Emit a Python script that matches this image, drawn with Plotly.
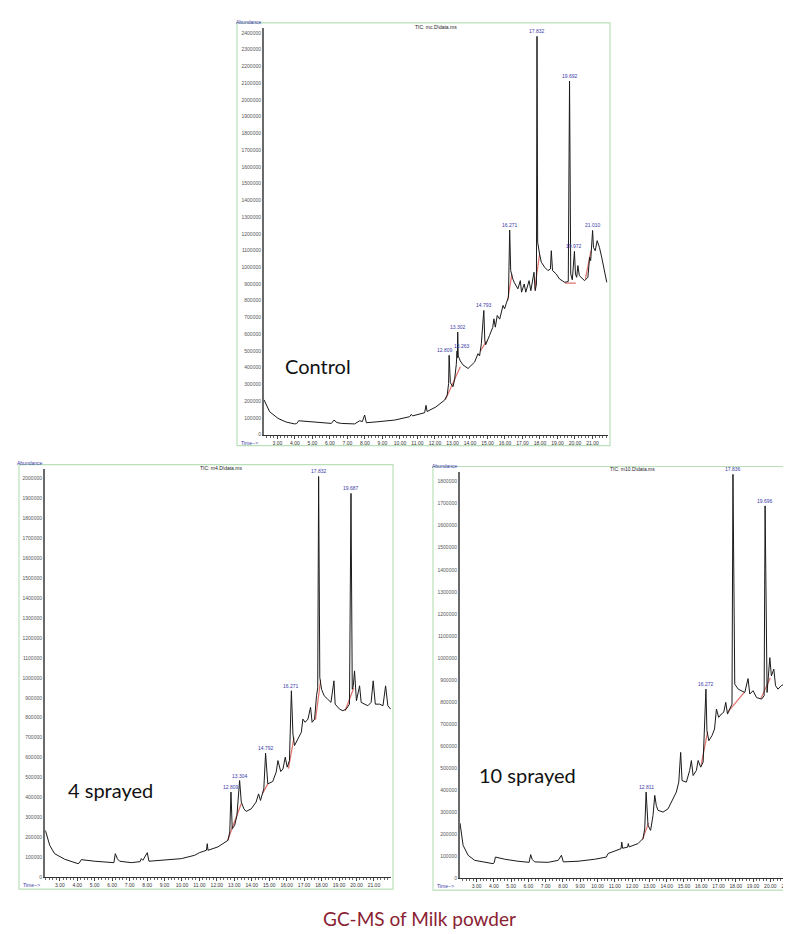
import plotly.graph_objects as go

# ---------------- DATA ----------------
# Control (mc.D)
ctrl_time = [2.23, 2.55, 3.03, 3.5, 3.98, 4.10, 4.21, 4.5, 5.12, 6.08, 6.23, 6.4, 6.65, 7.41, 7.70, 7.85, 7.98, 8.08,
             8.74, 9.70, 10.55, 10.65, 10.72, 11.41, 11.49, 11.55, 12.05, 12.55, 12.70, 12.78, 12.809, 12.88, 13.03,
             13.12, 13.22, 13.263, 13.28, 13.302, 13.33, 13.45, 13.6, 13.89, 14.27, 14.46, 14.55, 14.65, 14.793,
             14.85, 14.9, 15.12, 15.3, 15.37, 15.45, 15.56, 15.7, 15.89, 15.98, 16.1, 16.20, 16.271, 16.33, 16.45,
             16.53, 16.74, 16.88, 16.95, 17.1, 17.19, 17.38, 17.48, 17.66, 17.73, 17.80, 17.832, 17.87, 17.98,
             18.08, 18.27, 18.46, 18.60, 18.65, 18.72, 18.93, 19.12, 19.41, 19.62, 19.692, 19.76, 19.85, 19.972,
             20.03, 20.10, 20.17, 20.25, 20.36, 20.55, 20.74, 20.84, 20.9, 21.010, 21.06, 21.16, 21.27, 21.4,
             21.53, 21.65, 21.82]
ctrl_abund = [208000, 137000, 97000, 75000, 64000, 66000, 83000, 80000, 75000, 67000, 87000, 72000, 67000, 64000,
              83000, 78000, 117000, 71000, 77000, 87000, 107000, 121000, 112000, 131000, 175000, 138000, 165000,
              206000, 236000, 305000, 474000, 310000, 286000, 327000, 420000, 500000, 460000, 613000, 470000,
              440000, 417000, 395000, 434000, 484000, 470000, 543000, 742000, 560000, 537000, 593000, 640000,
              692000, 642000, 712000, 690000, 772000, 752000, 792000, 820000, 1222000, 980000, 930000, 910000,
              871000, 920000, 851000, 900000, 851000, 920000, 860000, 970000, 860000, 900000, 2380000, 1150000,
              1079000, 1030000, 1000000, 980000, 990000, 1099000, 980000, 960000, 930000, 910000, 915000,
              2113000, 960000, 925000, 1095000, 960000, 940000, 1010000, 950000, 940000, 920000, 940000,
              1060000, 1040000, 1220000, 1119000, 1099000, 1159000, 1119000, 1060000, 1000000, 910000]
ctrl_base_time = [12.6, 13.45, None, 14.6, 14.95, None, 16.15, 16.40, None, 17.7, 17.98, None,
                  19.42, 20.05, None, 20.6, 20.92]
ctrl_base_abund = [210000, 405000, None, 500000, 560000, None, 800000, 960000, None, 870000, 1079000, None,
                   905000, 905000, None, 930000, 1100000]
ctrl_peak_time = [12.809, 13.263, 13.302, 14.793, 16.271, 17.832, 19.692, 19.972, 21.010]
ctrl_peak_abund = [474000, 500000, 613000, 742000, 1222000, 2380000, 2113000, 1095000, 1220000]
ctrl_peak_labels = ["12.809", "13.263", "13.302", "14.793", "16.271", "17.832", "19.692", "19.972", "21.010"]

# 4 sprayed (m4.D)
s4_time = [2.15, 2.19, 2.42, 2.70, 3.28, 4.04, 4.12, 4.23, 5.0, 5.76, 6.10, 6.18, 6.30, 6.43, 7.1, 7.60, 7.67,
           7.76, 8.01, 8.11, 9.01, 9.96, 10.73, 11.0, 11.40, 11.45, 11.49, 12.06, 12.64, 12.74, 12.809, 12.88,
           13.02, 13.15, 13.304, 13.4, 13.55, 13.68, 13.97, 14.25, 14.39, 14.5, 14.69, 14.792, 14.92, 15.2, 15.4,
           15.5, 15.66, 15.79, 15.92, 16.03, 16.16, 16.271, 16.36, 16.45, 16.64, 16.84, 16.93, 17.06, 17.22,
           17.37, 17.46, 17.6, 17.71, 17.78, 17.832, 17.9, 18.0, 18.15, 18.35, 18.54, 18.71, 18.78, 19.03,
           19.22, 19.41, 19.6, 19.687, 19.76, 19.82, 19.89, 20.0, 20.18, 20.27, 20.46, 20.65, 20.84, 20.96,
           21.08, 21.33, 21.52, 21.67, 21.8, 21.96]
s4_abund = [235000, 230000, 160000, 118000, 90000, 68000, 72000, 88000, 80000, 73000, 73000, 118000, 92000,
            80000, 73000, 78000, 93000, 85000, 123000, 80000, 85000, 93000, 110000, 123000, 135000, 168000,
            135000, 152000, 185000, 227000, 427000, 243000, 260000, 310000, 485000, 377000, 343000, 330000,
            343000, 377000, 418000, 385000, 443000, 622000, 468000, 480000, 527000, 585000, 530000, 543000,
            602000, 552000, 585000, 935000, 718000, 660000, 693000, 727000, 793000, 777000, 793000, 852000,
            777000, 793000, 910000, 950000, 2010000, 1002000, 943000, 910000, 893000, 877000, 985000, 868000,
            843000, 835000, 843000, 868000, 1925000, 943000, 960000, 1035000, 885000, 960000, 877000, 868000,
            860000, 877000, 985000, 868000, 868000, 860000, 960000, 860000, 843000]
s4_base_time = [12.62, 13.4, None, 14.62, 14.92, None, 16.1, 16.42, None, 17.65, 17.95, None, 19.35, 19.85]
s4_base_abund = [185000, 370000, None, 420000, 468000, None, 545000, 700000, None, 790000, 990000, None,
                 835000, 950000]
s4_peak_time = [12.809, 13.304, 14.792, 16.271, 17.832, 19.687]
s4_peak_abund = [427000, 485000, 622000, 935000, 2010000, 1925000]
s4_peak_labels = ["12.809", "13.304", "14.792", "16.271", "17.832", "19.687"]

# 10 sprayed (m10.D)
s10_time = [2.04, 2.06, 2.22, 2.51, 2.89, 3.95, 4.02, 4.09, 4.63, 5.4, 6.04, 6.13, 6.22, 6.36, 7.14, 7.72, 7.91,
            8.02, 8.87, 9.84, 10.51, 10.61, 11.36, 11.4, 11.45, 11.74, 11.78, 11.83, 12.34, 12.63, 12.73, 12.811,
            12.92, 13.07, 13.21, 13.31, 13.4, 13.5, 13.79, 14.08, 14.37, 14.56, 14.7, 14.81, 14.89, 15.14, 15.33,
            15.43, 15.53, 15.72, 15.82, 15.97, 16.11, 16.272, 16.33, 16.44, 16.62, 16.77, 16.88, 17.01, 17.16,
            17.3, 17.42, 17.52, 17.65, 17.78, 17.836, 17.94, 18.14, 18.33, 18.52, 18.71, 18.81, 19.0, 19.2,
            19.49, 19.64, 19.696, 19.81, 19.97, 20.06, 20.2, 20.3, 20.44, 20.63, 20.82, 21.02, 21.11, 21.3,
            21.5, 21.6]
s10_abund = [250000, 240000, 149000, 104000, 81000, 66000, 70000, 96000, 86000, 77000, 72000, 107000, 85000,
             74000, 72000, 81000, 104000, 74000, 77000, 86000, 96000, 112000, 134000, 164000, 136000, 141000,
             157000, 142000, 157000, 180000, 224000, 391000, 240000, 217000, 285000, 376000, 330000, 308000,
             300000, 315000, 360000, 391000, 436000, 571000, 443000, 436000, 489000, 534000, 466000, 489000,
             534000, 504000, 527000, 858000, 670000, 624000, 647000, 677000, 768000, 730000, 745000, 753000,
             798000, 745000, 768000, 790000, 1833000, 881000, 858000, 851000, 843000, 906000, 836000, 851000,
             820000, 813000, 828000, 1690000, 843000, 1001000, 918000, 949000, 874000, 858000, 874000, 881000,
             956000, 881000, 836000, 828000, 820000]
s10_base_time = [12.6, 12.95, None, 16.0, 16.37, None, 17.5, 18.5, None, 19.45, 20.0]
s10_base_abund = [175000, 250000, None, 515000, 665000, None, 750000, 845000, None, 815000, 910000]
s10_peak_time = [12.811, 16.272, 17.836, 19.696]
s10_peak_abund = [391000, 858000, 1833000, 1690000]
s10_peak_labels = ["12.811", "16.272", "17.836", "19.696"]

panel_names = ["Control", "4 sprayed", "10 sprayed"]
tic_titles = ["TIC: mc.D\\data.ms", "TIC: m4.D\\data.ms", "TIC: m10.D\\data.ms"]
caption = "GC-MS of Milk powder"

# ---------------- LAYOUT (pixel boxes) ----------------
W, H = 791, 934
def px(x): return x / W
def py(y): return 1 - y / H

panels = [
    dict(t=ctrl_time, a=ctrl_abund, bt=ctrl_base_time, ba=ctrl_base_abund, pt=ctrl_peak_time, pa=ctrl_peak_abund,
         pl=ctrl_peak_labels, plot=(256, 20, 600, 428), frame=(229, 15, 602, 439), xr=[2.23, 21.89],
         yr=[0, 2430000], name_xy=(310, 359), title_xy=(428, 19),
         lshift={"12.809": -4, "13.263": 5}),
    dict(t=s4_time, a=s4_abund, bt=s4_base_time, ba=s4_base_abund, pt=s4_peak_time, pa=s4_peak_abund,
         pl=s4_peak_labels, plot=(37, 462, 383, 872), frame=(11, 458, 385, 884), xr=[2.15, 21.98],
         yr=[0, 2050000], name_xy=(102, 785), title_xy=(213, 461), lshift={}),
    dict(t=s10_time, a=s10_abund, bt=s10_base_time, ba=s10_base_abund, pt=s10_peak_time, pa=s10_peak_abund,
         pl=s10_peak_labels, plot=(452, 465, 790, 873), frame=(425, 460, 790, 885), xr=[2.04, 21.6],
         yr=[0, 1846000], name_xy=(519, 769), title_xy=(624, 462), lshift={}),
]

fig = go.Figure()
shapes = []
annotations = []
layout_axes = {}
LBLUE = "#3b3ba8"

for i, p in enumerate(panels, start=1):
    xa = "x" if i == 1 else f"x{i}"
    ya = "y" if i == 1 else f"y{i}"
    xkey = "xaxis" if i == 1 else f"xaxis{i}"
    ykey = "yaxis" if i == 1 else f"yaxis{i}"
    l, t, r, b = p["plot"]
    fig.add_trace(go.Scatter(x=p["bt"], y=p["ba"], xaxis=xa, yaxis=ya, mode="lines",
                             line=dict(color="#e0706a", width=1.2), connectgaps=False,
                             showlegend=False, hoverinfo="skip"))
    fig.add_trace(go.Scatter(x=p["t"], y=p["a"], xaxis=xa, yaxis=ya, mode="lines",
                             line=dict(color="#1a1a1a", width=1), showlegend=False))
    layout_axes[xkey] = dict(domain=[px(l), px(r)], anchor=ya, range=p["xr"], tickmode="linear", tick0=3,
                             dtick=1, tickformat=".2f", ticks="outside", ticklen=3, tickcolor="#444",
                             minor=dict(dtick=0.2, tick0=3, ticks="outside", ticklen=2, tickcolor="#666"),
                             showline=True, linecolor="#333", linewidth=1, showgrid=False, zeroline=False,
                             tickfont=dict(size=5, color="#333", family="Arial"), fixedrange=True)
    layout_axes[ykey] = dict(domain=[py(b), py(t)], anchor=xa, range=p["yr"], tickmode="linear", tick0=0,
                             dtick=100000, tickformat="d", ticks="", showline=True, linecolor="#6a6a6a",
                             linewidth=2, showgrid=False, zeroline=False,
                             tickfont=dict(size=5, color="#555", family="Arial"), fixedrange=True)
    fl, ft, fr, fb = p["frame"]
    shapes.append(dict(type="rect", xref="paper", yref="paper", x0=px(fl), x1=px(fr), y0=py(fb), y1=py(ft),
                       line=dict(color="#b9e0b9", width=1.2), layer="below"))
    annotations.append(dict(text="Abundance", xref="paper", yref="paper", x=px(l), y=py(t - 1),
                            xanchor="right", yanchor="bottom", showarrow=False,
                            font=dict(size=5, color=LBLUE, family="Arial")))
    annotations.append(dict(text="Time-->", xref="paper", yref="paper", x=px(fl + 2), y=py(b + 3),
                            xanchor="left", yanchor="top", showarrow=False,
                            font=dict(size=5, color=LBLUE, family="Arial")))
    tx, ty = p["title_xy"]
    annotations.append(dict(text=tic_titles[i - 1], xref="paper", yref="paper", x=px(tx), y=py(ty),
                            xanchor="center", yanchor="middle", showarrow=False,
                            font=dict(size=5, color="#222", family="Arial")))
    nx, ny = p["name_xy"]
    annotations.append(dict(text=panel_names[i - 1], xref="paper", yref="paper", x=px(nx), y=py(ny),
                            xanchor="center", yanchor="middle", showarrow=False,
                            font=dict(size=20, color="#111", family="Lato")))
    for pt, pa, lab in zip(p["pt"], p["pa"], p["pl"]):
        annotations.append(dict(text=lab, x=pt, y=pa, xref=xa, yref=ya, xanchor="center", yanchor="bottom",
                                showarrow=False, xshift=p["lshift"].get(lab, 0),
                                font=dict(size=5, color=LBLUE, family="Arial")))

annotations.append(dict(text=caption, xref="paper", yref="paper", x=px(411), y=py(913), xanchor="center",
                        yanchor="middle", showarrow=False, font=dict(size=19, color="#8a2232", family="Lato")))

fig.update_layout(width=W, height=H, margin=dict(l=0, r=0, t=0, b=0), paper_bgcolor="white",
                  plot_bgcolor="white", shapes=shapes, annotations=annotations, showlegend=False,
                  **layout_axes)

fig.write_html("out.html")
